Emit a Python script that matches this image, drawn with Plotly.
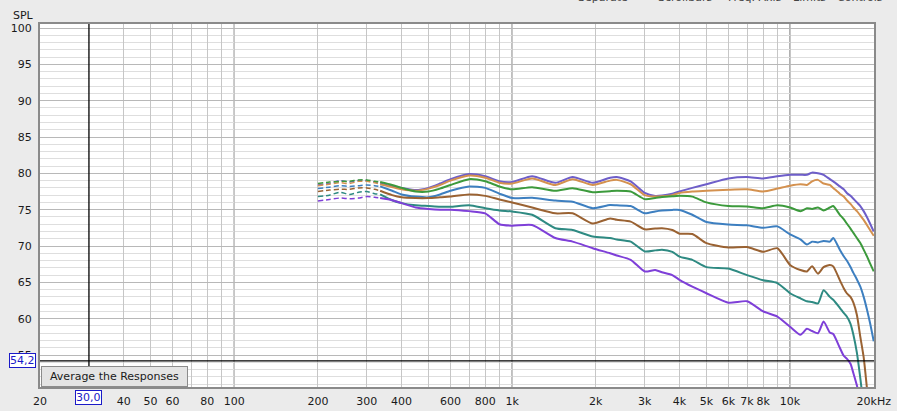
import math
import plotly.graph_objects as go

# ---------------- data ----------------
freq_dash = [200, 220, 240, 260, 280, 300, 320, 335]
freq_solid = [335, 370, 400, 450, 500, 550, 600, 700, 800, 900,
              1000, 1180, 1430, 1650, 1950, 2250, 2380, 2670, 3000, 3270,
              3460, 3770, 4000, 4450, 5000, 6000, 7000, 8000, 9000, 10000,
              10900, 11500, 12000, 12600, 13200, 13900, 14300, 15100, 15600, 16000,
              16500, 16900, 17400, 17900, 18400, 18900, 19400, 20000]

dash_1 = [78.4, 78.6, 79.0, 78.8, 79.0, 79.0, 78.8, 78.6]
dash_2 = [78.3, 78.5, 78.7, 78.6, 78.9, 78.9, 78.7, 78.5]
dash_3 = [78.6, 78.8, 78.9, 78.9, 79.1, 79.1, 78.9, 78.8]
dash_4 = [77.9, 78.1, 78.3, 78.2, 78.3, 78.4, 78.3, 78.2]
dash_5 = [77.5, 77.7, 77.8, 77.8, 78.0, 78.0, 77.8, 77.6]
dash_6 = [76.8, 77.0, 77.4, 77.1, 77.4, 77.5, 77.2, 77.1]
dash_7 = [76.2, 76.4, 76.6, 76.5, 76.6, 76.8, 76.7, 76.6]

spl_1 = [78.6, 78.2, 78.0, 77.7, 78.0, 78.6, 79.2, 79.9, 79.6, 78.9,
         78.8, 79.6, 78.7, 79.5, 78.7, 79.4, 79.5, 78.9, 77.3, 76.9,
         76.95, 77.2, 77.5, 78.0, 78.5, 79.3, 79.5, 79.3, 79.6, 79.8,
         79.8, 79.8, 80.1, 80.0, 79.8, 79.2, 78.9, 78.2, 77.8, 77.3,
         76.9, 76.5, 76.0, 75.5, 74.8, 74.0, 73.1, 72.0]
spl_2 = [78.5, 78.1, 77.8, 77.6, 77.9, 78.4, 79.0, 79.7, 79.4, 78.7,
         78.6, 79.3, 78.4, 79.2, 78.4, 79.0, 79.1, 78.5, 77.0, 76.8,
         76.85, 77.0, 77.3, 77.5, 77.6, 77.75, 77.8, 77.5, 77.9, 78.3,
         78.5, 78.4, 78.9, 79.1, 78.6, 78.4, 78.0, 77.2, 76.8, 76.3,
         75.8, 75.3, 74.8, 74.2, 73.6, 72.9, 72.2, 71.4]
spl_3 = [78.8, 78.4, 78.0, 77.5, 77.5, 77.9, 78.4, 79.2, 78.9, 78.2,
         77.8, 78.1, 77.6, 77.95, 77.4, 77.55, 77.6, 77.5, 76.45, 76.6,
         76.75, 76.85, 76.9, 76.8, 76.0, 75.5, 75.45, 75.2, 75.6, 75.3,
         74.8, 75.2, 75.1, 75.3, 74.9, 75.3, 75.5, 74.3, 73.7, 73.1,
         72.4, 71.8, 71.1, 70.4, 69.5, 68.6, 67.6, 66.5]
spl_4 = [78.2, 77.6, 77.1, 76.8, 76.7, 77.1, 77.6, 78.2, 78.0, 77.2,
         76.6, 76.65, 76.25, 76.1, 75.2, 75.65, 75.6, 75.5, 74.5, 74.75,
         74.87, 74.97, 74.97, 74.3, 73.3, 72.95, 72.85, 72.5, 72.7, 71.6,
         70.9, 70.2, 70.6, 70.5, 70.7, 70.6, 71.1, 69.5, 68.6, 68.0,
         67.1, 66.3, 65.4, 64.4, 63.0, 61.3, 59.4, 56.9]
spl_5 = [77.6, 77.0, 76.7, 76.6, 76.6, 76.7, 76.8, 77.1, 76.9, 76.4,
         76.0, 75.3, 74.5, 74.5, 73.1, 73.8, 73.6, 73.35, 72.3, 72.4,
         72.45, 72.2, 71.7, 71.65, 70.4, 69.8, 69.85, 69.2, 69.7, 67.4,
         66.7, 66.5, 67.2, 66.2, 67.1, 67.4, 67.2, 65.3, 64.2, 63.5,
         63.0, 62.2, 60.5, 57.5, 54.7, 50.5, 46.0, 42.0]
spl_6 = [77.1, 76.3, 75.9, 75.6, 75.5, 75.4, 75.4, 75.6, 75.2, 74.9,
         74.75, 74.3, 72.45, 72.2, 71.3, 71.1, 70.9, 70.6, 69.25, 69.4,
         69.5, 69.2, 68.55, 68.1, 67.1, 66.9, 66.0, 65.3, 64.9, 63.5,
         62.8, 62.4, 62.3, 62.1, 63.9, 63.0, 62.6, 61.5, 60.8, 60.3,
         59.3, 57.8, 55.3, 51.8, 48.0, 45.0, 43.0, 41.0]
spl_7 = [76.6, 76.3, 75.9, 75.3, 75.1, 75.0, 75.0, 74.8, 74.5, 73.0,
         72.8, 72.9, 71.1, 70.6, 69.7, 69.0, 68.7, 68.1, 66.5, 66.7,
         66.4, 66.0, 65.35, 64.4, 63.5, 62.2, 62.4, 61.0, 60.3, 58.9,
         57.8, 58.6, 58.3, 58.0, 59.6, 58.1, 57.9, 56.0, 54.9, 54.5,
         53.8, 52.5, 50.8, 48.5, 46.0, 44.0, 42.0, 40.0]

dash_series = [dash_1, dash_2, dash_3, dash_4, dash_5, dash_6, dash_7]
solid_series = [spl_1, spl_2, spl_3, spl_4, spl_5, spl_6, spl_7]
colors = ['#6e5ec9', '#d4914f', '#3c9a3c', '#3d7fc0', '#9a6232', '#2e8a82', '#7e3fd8']

x_grid = [20, 40, 50, 60, 70, 80, 90,
          100, 200, 300, 400, 500, 600, 700, 800, 900,
          1000, 2000, 3000, 4000, 5000, 6000, 7000, 8000, 9000,
          10000, 20000]
x_labels = {20: '20', 40: '40', 50: '50', 60: '60', 80: '80', 100: '100',
            200: '200', 300: '300', 400: '400', 600: '600', 800: '800',
            1000: '1k', 2000: '2k', 3000: '3k', 4000: '4k', 5000: '5k',
            6000: '6k', 7000: '7k', 8000: '8k', 10000: '10k', 20000: '20kHz'}
decades = [100, 1000, 10000]
y_ticks = [55, 60, 65, 70, 75, 80, 85, 90, 95, 100]

cursor_freq = 30.0
cursor_spl = 54.2
menu_items = ['Separate', 'Scrollbars', 'Freq. Axis', 'Limits', 'Controls']
menu_px = [603, 685, 755, 809, 860]

# ---------------- figure ----------------
W, H = 897, 411
L, R, T, B = 40, 23, 24, 24
PW, PH = W - L - R, H - T - B
BG = '#ebebeb'

def px_x(p):
    return (p - L) / PW

def px_y(p):
    return (H - B - p) / PH

fig = go.Figure()
for col, dv, sv in zip(colors, dash_series, solid_series):
    fig.add_trace(go.Scatter(x=freq_dash, y=dv, mode='lines',
                             line=dict(color=col, width=1.5, dash='5px,3px', shape='spline', smoothing=0.6),
                             hoverinfo='skip', showlegend=False))
    fig.add_trace(go.Scatter(x=freq_solid, y=sv, mode='lines',
                             line=dict(color=col, width=2, shape='spline', smoothing=0.6),
                             hoverinfo='skip', showlegend=False))

for d in decades:
    fig.add_shape(type='line', xref='x', yref='paper', x0=d, x1=d, y0=0, y1=1,
                  line=dict(color='#707070', width=1.2), layer='between')
fig.add_shape(type='line', xref='x', yref='paper', x0=cursor_freq, x1=cursor_freq, y0=0, y1=1,
              line=dict(color='black', width=1.3), layer='above')
fig.add_shape(type='line', xref='paper', yref='y', x0=0, x1=1, y0=cursor_spl, y1=cursor_spl,
              line=dict(color='black', width=1.3), layer='above')

fig.update_layout(
    width=W, height=H,
    margin=dict(l=L, r=R, t=T, b=B, autoexpand=False),
    paper_bgcolor=BG, plot_bgcolor='white',
    font=dict(family='DejaVu Sans', size=11, color='#1a1a1a'),
    showlegend=False,
)
fig.update_xaxes(type='log', range=[math.log10(20), math.log10(20000) + 0.001],
                 tickmode='array', tickvals=x_grid,
                 ticktext=[x_labels.get(v, '') for v in x_grid],
                 showgrid=True, gridcolor='#c6c6c6', gridwidth=1,
                 ticks='', ticklabelstandoff=3, automargin=False,
                 showline=True, mirror=True, linecolor='#8a8a8a', linewidth=2,
                 zeroline=False, fixedrange=True)
fig.update_yaxes(range=[50.6, 100.55], tickmode='array', tickvals=y_ticks,
                 ticktext=[str(v) for v in y_ticks],
                 showgrid=True, gridcolor='#b8b8b8', gridwidth=1,
                 minor=dict(tickmode='linear', tick0=50, dtick=1, showgrid=True,
                            gridcolor='#dedede', gridwidth=1, ticks=''),
                 ticks='', ticklabelstandoff=4, automargin=False,
                 showline=True, mirror=True, linecolor='#8a8a8a', linewidth=2,
                 zeroline=False, fixedrange=True)

ann = []
ann.append(dict(text='SPL', xref='paper', yref='paper', x=px_x(23), y=px_y(15),
                xanchor='center', yanchor='middle', showarrow=False,
                font=dict(size=11, color='#1a1a1a')))
ann.append(dict(text=f'{cursor_spl:.1f}'.replace('.', ','), xref='paper', yref='y',
                x=px_x(22.5), y=cursor_spl, xanchor='center', yanchor='middle',
                showarrow=False, bgcolor='white', bordercolor='#1a1ac8', borderwidth=1,
                borderpad=0, font=dict(size=11, color='#1a1ac8')))
ann.append(dict(text=f'{cursor_freq:.1f}'.replace('.', ','), xref='x', yref='paper',
                x=math.log10(cursor_freq), y=px_y(397), xanchor='center', yanchor='middle',
                showarrow=False, bgcolor='white', bordercolor='#1a1ac8', borderwidth=1,
                borderpad=0, font=dict(size=11, color='#1a1ac8')))
ann.append(dict(text='Average the Responses', xref='paper', yref='paper',
                x=px_x(114.5), y=px_y(376), xanchor='center', yanchor='middle',
                showarrow=False, bgcolor='#e4e4e4', bordercolor='#8c8c8c', borderwidth=1,
                borderpad=3, width=139, height=13, font=dict(size=11, color='#1a1a1a')))
for name, p in zip(menu_items, menu_px):
    ann.append(dict(text=name, xref='paper', yref='paper', x=px_x(p), y=px_y(6),
                    xanchor='center', yanchor='bottom', showarrow=False,
                    font=dict(size=11, color='#444444')))
fig.update_layout(annotations=ann)

fig.write_html('out.html', config={'displayModeBar': False},
               post_script="document.body.style.margin='0';"
                           "document.body.style.padding='0';"
                           "document.body.style.overflow='hidden';"
                           f"document.body.style.background='{BG}';")
